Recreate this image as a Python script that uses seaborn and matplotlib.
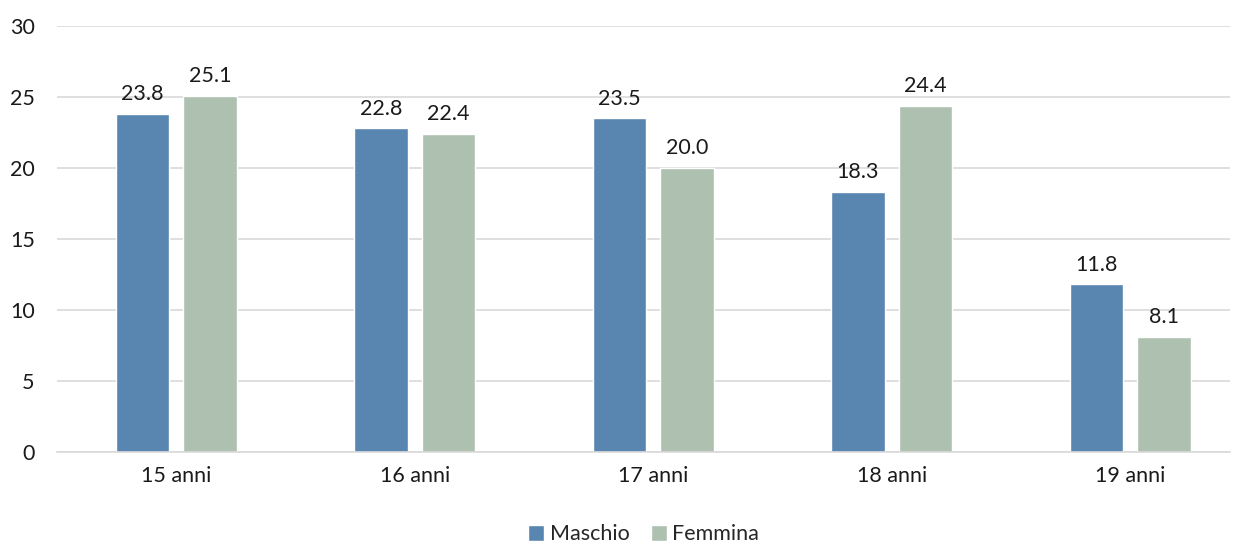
import matplotlib
matplotlib.use("Agg")
import matplotlib.pyplot as plt
import seaborn as sns
import pandas as pd

categories = ["15 anni", "16 anni", "17 anni", "18 anni", "19 anni"]
maschio = [23.8, 22.8, 23.5, 18.3, 11.8]
femmina = [25.1, 22.4, 20.0, 24.4, 8.1]
series = ["Maschio", "Femmina"]
yticks = [0, 5, 10, 15, 20, 25, 30]

df = pd.DataFrame({
    "cat": categories * 2,
    "val": maschio + femmina,
    "sex": [series[0]] * len(categories) + [series[1]] * len(categories),
})

sns.set_theme(style="white")
plt.rcParams["font.family"] = ["Lato", "DejaVu Sans"]
FS = 15.5

fig = plt.figure(figsize=(12.39, 5.45), dpi=100)
ax = fig.add_axes([0.046, 0.1706, 0.947, 0.7817])
colors = {"Maschio": "#5886B0", "Femmina": "#AEC0B0"}
sns.barplot(data=df, x="cat", y="val", hue="sex", palette=colors, ax=ax,
            width=0.566, gap=0.21, saturation=1, legend=True)

for c in ax.containers:
    ax.bar_label(c, fmt="%.1f", padding=7, fontsize=FS, color="#1a1a1a")

ax.set_ylim(0, 30)
ax.set_xlim(-0.5, 4.42)
ax.set_yticks(yticks)
ax.yaxis.grid(True, color="#D9D9D9", linewidth=1.2)
ax.set_axisbelow(True)
for s in ["top", "right", "left"]:
    ax.spines[s].set_visible(False)
ax.spines["bottom"].set_color("#D9D9D9")
ax.spines["bottom"].set_linewidth(1.2)
ax.tick_params(axis="both", length=0, labelsize=FS, colors="#1a1a1a")
ax.tick_params(axis="x", pad=10)
ax.tick_params(axis="y", pad=16)
ax.set_xlabel("")
ax.set_ylabel("")

leg = ax.legend(loc="center", bbox_to_anchor=(0.5, -0.193), ncol=2, frameon=False,
                fontsize=FS, handlelength=0.75, handleheight=0.75, handletextpad=0.25,
                columnspacing=1.0, borderpad=0.1)
fig.savefig("out.png", dpi=100)
